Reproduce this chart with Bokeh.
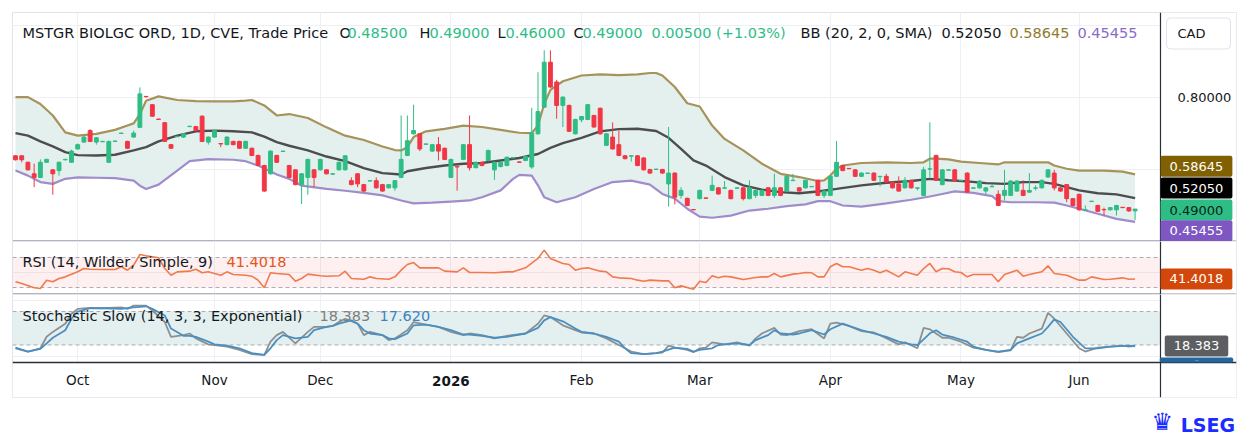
from bokeh.plotting import figure
from bokeh.models import Range1d, FixedTicker, Span, Label, BoxAnnotation, ColumnDataSource, Div, PrintfTickFormatter
from bokeh.layouts import column
from bokeh.embed import file_html
from bokeh.resources import INLINE

# ---------------- data ----------------
opens = [
    0.638, 0.638, 0.620, 0.588, 0.578, 0.620, 0.599, 0.597, 0.627, 0.620,
    0.657, 0.676, 0.708, 0.676, 0.677, 0.620, 0.678, 0.700, 0.678, 0.690,
    0.717, 0.803, 0.780, 0.740, 0.730, 0.669, 0.691, 0.690, 0.719, 0.719,
    0.748, 0.676, 0.690, 0.672, 0.669, 0.678, 0.678, 0.659, 0.659, 0.639,
    0.611, 0.588, 0.639, 0.650, 0.611, 0.599, 0.558, 0.578, 0.599, 0.599,
    0.599, 0.587, 0.599, 0.599, 0.569, 0.588, 0.558, 0.568, 0.569, 0.558,
    0.549, 0.549, 0.578, 0.639, 0.699, 0.699, 0.670, 0.651, 0.669, 0.659,
    0.578, 0.608, 0.628, 0.669, 0.605, 0.620, 0.625, 0.599, 0.608, 0.611,
    0.632, 0.621, 0.625, 0.607, 0.699, 0.773, 0.898, 0.843, 0.778, 0.778,
    0.699, 0.738, 0.739, 0.750, 0.770, 0.667, 0.690, 0.669, 0.638, 0.637,
    0.638, 0.632, 0.600, 0.600, 0.600, 0.560, 0.590, 0.528, 0.520, 0.489,
    0.519, 0.521, 0.542, 0.549, 0.548, 0.542, 0.548, 0.549, 0.519, 0.528,
    0.528, 0.549, 0.528, 0.549, 0.540, 0.569, 0.549, 0.549, 0.552, 0.570,
    0.528, 0.528, 0.581, 0.611, 0.603, 0.599, 0.581, 0.589, 0.590, 0.580,
    0.581, 0.565, 0.560, 0.549, 0.570, 0.548, 0.528, 0.601, 0.639, 0.558,
    0.598, 0.599, 0.569, 0.590, 0.548, 0.549, 0.540, 0.552, 0.531, 0.528,
    0.528, 0.540, 0.542, 0.537, 0.548, 0.549, 0.579, 0.590, 0.549, 0.558,
    0.519, 0.531, 0.487, 0.511, 0.500, 0.489, 0.488, 0.488, 0.495, 0.494,
    0.485,
]
highs = [
    0.640, 0.639, 0.622, 0.616, 0.628, 0.630, 0.601, 0.622, 0.630, 0.655,
    0.672, 0.694, 0.712, 0.690, 0.680, 0.680, 0.680, 0.702, 0.680, 0.708,
    0.828, 0.804, 0.782, 0.741, 0.732, 0.671, 0.693, 0.701, 0.721, 0.721,
    0.750, 0.692, 0.710, 0.673, 0.692, 0.680, 0.680, 0.680, 0.661, 0.641,
    0.613, 0.653, 0.641, 0.652, 0.613, 0.601, 0.590, 0.630, 0.601, 0.630,
    0.601, 0.589, 0.622, 0.640, 0.578, 0.590, 0.560, 0.570, 0.578, 0.560,
    0.560, 0.571, 0.750, 0.750, 0.780, 0.701, 0.672, 0.671, 0.690, 0.661,
    0.630, 0.610, 0.671, 0.750, 0.622, 0.622, 0.655, 0.622, 0.622, 0.636,
    0.634, 0.622, 0.638, 0.771, 0.870, 0.931, 0.931, 0.849, 0.803, 0.780,
    0.741, 0.749, 0.782, 0.752, 0.772, 0.701, 0.731, 0.708, 0.640, 0.640,
    0.640, 0.634, 0.602, 0.602, 0.602, 0.718, 0.592, 0.551, 0.522, 0.490,
    0.544, 0.522, 0.583, 0.551, 0.568, 0.544, 0.550, 0.551, 0.570, 0.544,
    0.544, 0.551, 0.588, 0.551, 0.583, 0.588, 0.551, 0.572, 0.554, 0.572,
    0.542, 0.583, 0.679, 0.613, 0.604, 0.601, 0.592, 0.591, 0.592, 0.582,
    0.588, 0.567, 0.581, 0.579, 0.572, 0.550, 0.607, 0.731, 0.641, 0.601,
    0.600, 0.601, 0.571, 0.592, 0.550, 0.570, 0.551, 0.558, 0.542, 0.599,
    0.570, 0.570, 0.570, 0.590, 0.556, 0.572, 0.601, 0.599, 0.551, 0.560,
    0.521, 0.533, 0.500, 0.513, 0.502, 0.494, 0.496, 0.502, 0.496, 0.496,
    0.490,
]
lows = [
    0.625, 0.620, 0.597, 0.551, 0.576, 0.618, 0.530, 0.583, 0.625, 0.618,
    0.655, 0.674, 0.676, 0.669, 0.676, 0.618, 0.677, 0.699, 0.657, 0.688,
    0.715, 0.800, 0.746, 0.738, 0.676, 0.657, 0.690, 0.688, 0.718, 0.706,
    0.676, 0.669, 0.688, 0.662, 0.667, 0.667, 0.657, 0.657, 0.637, 0.609,
    0.538, 0.586, 0.618, 0.649, 0.576, 0.556, 0.504, 0.530, 0.551, 0.597,
    0.586, 0.586, 0.597, 0.597, 0.556, 0.551, 0.538, 0.567, 0.547, 0.538,
    0.547, 0.541, 0.576, 0.637, 0.697, 0.651, 0.669, 0.649, 0.625, 0.626,
    0.576, 0.541, 0.626, 0.597, 0.603, 0.609, 0.623, 0.571, 0.606, 0.609,
    0.631, 0.619, 0.623, 0.602, 0.697, 0.771, 0.827, 0.741, 0.718, 0.704,
    0.697, 0.731, 0.737, 0.716, 0.697, 0.665, 0.655, 0.637, 0.628, 0.622,
    0.609, 0.597, 0.588, 0.599, 0.588, 0.497, 0.503, 0.519, 0.498, 0.487,
    0.517, 0.519, 0.540, 0.530, 0.547, 0.517, 0.547, 0.514, 0.517, 0.521,
    0.526, 0.526, 0.521, 0.526, 0.538, 0.568, 0.538, 0.547, 0.551, 0.526,
    0.521, 0.526, 0.579, 0.595, 0.601, 0.579, 0.579, 0.588, 0.568, 0.553,
    0.563, 0.547, 0.538, 0.547, 0.547, 0.542, 0.526, 0.579, 0.568, 0.556,
    0.597, 0.566, 0.568, 0.535, 0.547, 0.547, 0.532, 0.551, 0.498, 0.514,
    0.526, 0.538, 0.526, 0.535, 0.542, 0.547, 0.577, 0.542, 0.538, 0.509,
    0.498, 0.486, 0.486, 0.510, 0.482, 0.472, 0.486, 0.472, 0.493, 0.482,
    0.460,
]
closes = [
    0.627, 0.627, 0.599, 0.578, 0.620, 0.628, 0.588, 0.620, 0.628, 0.651,
    0.669, 0.690, 0.678, 0.688, 0.678, 0.678, 0.679, 0.701, 0.659, 0.701,
    0.810, 0.802, 0.748, 0.739, 0.678, 0.659, 0.692, 0.699, 0.720, 0.708,
    0.678, 0.690, 0.708, 0.671, 0.690, 0.669, 0.659, 0.678, 0.639, 0.611,
    0.540, 0.651, 0.620, 0.651, 0.578, 0.558, 0.588, 0.628, 0.578, 0.628,
    0.588, 0.588, 0.620, 0.638, 0.558, 0.560, 0.540, 0.569, 0.549, 0.540,
    0.558, 0.569, 0.628, 0.680, 0.708, 0.657, 0.671, 0.669, 0.651, 0.628,
    0.628, 0.607, 0.669, 0.605, 0.620, 0.611, 0.653, 0.620, 0.620, 0.634,
    0.633, 0.620, 0.636, 0.701, 0.761, 0.898, 0.829, 0.778, 0.801, 0.706,
    0.739, 0.747, 0.780, 0.718, 0.699, 0.699, 0.657, 0.639, 0.630, 0.638,
    0.611, 0.599, 0.590, 0.601, 0.590, 0.590, 0.523, 0.542, 0.500, 0.488,
    0.542, 0.520, 0.556, 0.532, 0.549, 0.519, 0.549, 0.519, 0.549, 0.542,
    0.542, 0.528, 0.549, 0.528, 0.581, 0.570, 0.540, 0.570, 0.553, 0.528,
    0.540, 0.581, 0.620, 0.597, 0.602, 0.581, 0.590, 0.590, 0.570, 0.581,
    0.565, 0.549, 0.540, 0.570, 0.549, 0.549, 0.599, 0.602, 0.570, 0.599,
    0.599, 0.568, 0.570, 0.537, 0.549, 0.568, 0.549, 0.553, 0.500, 0.542,
    0.568, 0.568, 0.528, 0.542, 0.549, 0.570, 0.599, 0.549, 0.540, 0.519,
    0.500, 0.488, 0.488, 0.512, 0.484, 0.488, 0.494, 0.500, 0.494, 0.485,
    0.490,
]

bb_up_idx = [0, 2, 4, 6, 8, 10, 13, 16, 18, 19, 20, 21, 23, 26, 29, 32, 35, 37, 38, 40,
             42, 44, 47, 50, 53, 56, 59, 61, 62, 63, 64, 66, 69, 72, 75, 78, 81, 83, 84, 85,
             86, 88, 91, 94, 97, 100, 102, 103, 104, 106, 108, 110, 112, 114, 117, 120, 123, 126, 129, 130,
             131, 132, 133, 136, 140, 144, 146, 147, 148, 150, 152, 155, 158, 159, 162, 166, 167, 169, 171, 175,
             178, 180]
bb_up = [0.801, 0.801, 0.782, 0.750, 0.703, 0.694, 0.699, 0.710, 0.722, 0.728, 0.754, 0.791, 0.803, 0.793, 0.790, 0.789, 0.789, 0.791, 0.793, 0.778,
         0.750, 0.754, 0.743, 0.717, 0.694, 0.682, 0.664, 0.654, 0.653, 0.662, 0.690, 0.706, 0.713, 0.722, 0.718, 0.710, 0.702, 0.701, 0.722, 0.782,
         0.821, 0.845, 0.861, 0.864, 0.862, 0.864, 0.868, 0.868, 0.861, 0.829, 0.784, 0.775, 0.722, 0.685, 0.653, 0.616, 0.588, 0.579, 0.568, 0.570,
         0.583, 0.602, 0.611, 0.618, 0.620, 0.618, 0.620, 0.630, 0.630, 0.628, 0.622, 0.618, 0.614, 0.620, 0.620, 0.620, 0.611, 0.602, 0.597, 0.597,
         0.594, 0.58645]

bb_mid_idx = [0, 2, 4, 6, 8, 10, 13, 16, 19, 21, 23, 26, 29, 32, 35, 38, 40, 42, 44, 47,
              50, 53, 56, 59, 62, 63, 66, 69, 72, 75, 78, 81, 84, 86, 88, 91, 94, 97, 100, 103,
              105, 107, 109, 111, 114, 117, 120, 123, 126, 129, 132, 136, 140, 144, 147, 150, 153, 156, 159, 162,
              165, 167, 169, 171, 174, 177, 180]
bb_mid = [0.701, 0.694, 0.678, 0.664, 0.648, 0.640, 0.639, 0.641, 0.653, 0.662, 0.678, 0.694, 0.706, 0.708, 0.706, 0.703, 0.691, 0.676, 0.666, 0.653,
          0.636, 0.623, 0.604, 0.590, 0.586, 0.595, 0.604, 0.611, 0.616, 0.618, 0.625, 0.632, 0.643, 0.660, 0.673, 0.688, 0.706, 0.712, 0.713, 0.707,
          0.688, 0.657, 0.625, 0.611, 0.579, 0.556, 0.544, 0.537, 0.534, 0.539, 0.546, 0.556, 0.563, 0.568, 0.574, 0.570, 0.567, 0.562, 0.560, 0.565,
          0.565, 0.560, 0.551, 0.542, 0.534, 0.531, 0.5205]

bb_low_idx = [0, 2, 4, 6, 8, 10, 13, 16, 19, 20, 21, 23, 26, 28, 31, 35, 37, 39, 42, 44,
              46, 50, 53, 56, 59, 62, 64, 67, 70, 73, 75, 78, 80, 81, 83, 84, 85, 87, 90, 93,
              96, 99, 102, 104, 106, 108, 110, 112, 115, 118, 121, 124, 127, 129, 131, 133, 136, 140, 144, 147,
              149, 151, 154, 157, 158, 160, 164, 167, 169, 171, 174, 177, 180]
bb_low = [0.597, 0.583, 0.565, 0.560, 0.574, 0.578, 0.577, 0.576, 0.569, 0.555, 0.546, 0.558, 0.597, 0.623, 0.629, 0.627, 0.623, 0.611, 0.586, 0.574,
          0.555, 0.546, 0.541, 0.535, 0.528, 0.514, 0.506, 0.508, 0.511, 0.514, 0.523, 0.542, 0.574, 0.585, 0.583, 0.556, 0.523, 0.509, 0.523, 0.546,
          0.565, 0.569, 0.558, 0.532, 0.519, 0.491, 0.469, 0.466, 0.472, 0.486, 0.491, 0.498, 0.503, 0.512, 0.512, 0.500, 0.497, 0.506, 0.516, 0.525,
          0.532, 0.539, 0.535, 0.526, 0.512, 0.509, 0.509, 0.508, 0.500, 0.491, 0.477, 0.463, 0.45455]

rsi_points = [
    (0, 37.6), (1, 35.3), (3, 29.6), (4, 28.7), (5, 39.8), (6, 37.6), (7, 42.0), (8, 44.2), (10, 50.9), (11, 55.3),
    (12, 54.4), (14, 54.0), (16, 54.0), (17, 57.6), (18, 53.1), (19, 59.8), (20, 74.0), (21, 72.2), (23, 69.6), (24, 55.3),
    (25, 46.4), (26, 50.9), (28, 51.8), (29, 54.4), (30, 49.6), (31, 50.9), (33, 46.4), (34, 50.9), (35, 47.3), (37, 46.4),
    (38, 45.1), (39, 39.8), (40, 29.6), (41, 49.6), (42, 48.7), (44, 47.3), (45, 38.4), (46, 42.0), (47, 47.8), (49, 45.6),
    (50, 45.1), (52, 45.6), (53, 51.8), (54, 42.0), (56, 41.1), (57, 44.2), (58, 42.0), (60, 41.1), (61, 44.2), (62, 53.1),
    (63, 60.7), (64, 63.3), (65, 56.2), (67, 56.2), (68, 56.2), (69, 51.8), (71, 50.9), (72, 56.2), (73, 50.0), (75, 50.0),
    (77, 49.6), (79, 50.9), (80, 50.9), (82, 56.2), (84, 68.7), (85, 79.8), (86, 68.7), (88, 62.0), (89, 60.7), (90, 53.1),
    (91, 55.3), (92, 56.2), (94, 51.8), (95, 50.9), (96, 44.2), (97, 42.9), (99, 42.0), (100, 39.8), (101, 38.4), (102, 39.8),
    (104, 38.9), (105, 38.9), (106, 29.6), (107, 32.2), (109, 27.8), (110, 38.4), (111, 36.7), (112, 45.6), (113, 42.9), (114, 45.1),
    (115, 44.2), (117, 40.7), (118, 42.0), (119, 43.3), (120, 44.2), (121, 44.2), (122, 48.7), (123, 44.2), (125, 47.8), (126, 48.7),
    (127, 50.0), (128, 49.6), (129, 44.2), (130, 44.2), (131, 57.6), (132, 62.0), (133, 57.6), (134, 57.6), (136, 53.1), (137, 55.3),
    (138, 53.1), (139, 49.6), (140, 53.1), (142, 44.2), (143, 50.9), (145, 46.4), (146, 55.3), (147, 62.0), (148, 50.9), (149, 55.3),
    (150, 55.0), (151, 50.9), (152, 50.0), (153, 44.2), (154, 47.3), (156, 47.3), (157, 47.3), (158, 37.6), (159, 47.3), (161, 53.1),
    (162, 45.1), (163, 47.3), (165, 50.9), (166, 58.9), (167, 48.7), (169, 46.4), (170, 42.9), (171, 39.8), (172, 39.8), (173, 44.2),
    (175, 40.7), (176, 41.1), (178, 42.9), (179, 41.1), (180, 41.4018),
]

stoch_k_points = [
    (0, 14.1), (2, 8.3), (4, 14.1), (5, 34.7), (6, 43.5), (8, 58.2), (9, 75.9), (10, 84.7), (12, 86.5), (14, 85.9),
    (17, 87.6), (18, 84.7), (19, 90.6), (21, 90.6), (22, 81.8), (24, 61.2), (25, 34.7), (27, 37.7), (28, 40.6), (29, 31.8),
    (31, 21.2), (32, 20.0), (34, 17.1), (36, 11.2), (38, 3.5), (40, 2.4), (41, 25.9), (42, 37.7), (43, 43.5), (45, 23.0),
    (47, 43.5), (48, 52.4), (50, 52.4), (51, 54.1), (52, 61.2), (53, 67.1), (55, 58.2), (56, 37.7), (57, 43.5), (59, 37.7),
    (60, 28.8), (61, 31.8), (63, 46.5), (64, 61.2), (66, 56.5), (68, 52.4), (70, 43.5), (72, 37.7), (73, 40.6), (75, 37.7),
    (77, 31.8), (79, 36.5), (82, 40.6), (84, 58.2), (85, 72.9), (86, 70.0), (88, 55.3), (90, 46.5), (91, 42.4), (93, 40.6),
    (95, 31.8), (97, 20.0), (98, 14.1), (99, 8.3), (101, 3.5), (103, 5.3), (104, 6.5), (105, 18.8), (106, 15.3), (108, 11.2),
    (109, 7.1), (110, 14.1), (111, 15.3), (112, 24.7), (114, 21.2), (116, 24.7), (118, 18.8), (119, 31.8), (120, 40.6), (122, 50.6),
    (123, 38.8), (124, 37.7), (126, 44.7), (128, 48.2), (130, 31.8), (131, 58.2), (132, 60.0), (134, 54.1), (136, 44.7), (138, 42.4),
    (139, 37.7), (142, 21.2), (143, 24.7), (145, 14.1), (146, 50.6), (147, 48.2), (149, 33.0), (150, 33.0), (152, 25.9), (154, 15.3),
    (156, 11.2), (158, 7.1), (160, 10.6), (161, 34.7), (162, 33.0), (163, 40.6), (165, 49.4), (166, 77.6), (167, 67.1), (169, 40.6),
    (171, 14.1), (172, 8.3), (174, 15.3), (176, 17.1), (178, 18.8), (179, 17.1), (180, 18.383),
]

stoch_d_points = [
    (0, 15.3), (2, 8.3), (4, 13.0), (5, 23.0), (6, 33.0), (8, 46.5), (9, 67.1), (10, 80.0), (12, 85.9), (14, 85.9),
    (17, 84.7), (19, 87.6), (21, 89.4), (22, 84.7), (24, 72.9), (25, 49.4), (27, 36.5), (28, 36.5), (29, 34.7), (31, 25.9),
    (32, 21.2), (34, 18.8), (36, 14.1), (38, 5.3), (40, 2.4), (41, 14.1), (42, 28.8), (43, 37.7), (45, 31.8), (47, 34.7),
    (48, 46.5), (50, 52.4), (51, 54.1), (52, 58.2), (54, 64.1), (55, 58.2), (56, 46.5), (57, 40.6), (59, 37.7), (60, 31.8),
    (61, 30.6), (63, 40.6), (64, 55.3), (66, 56.5), (68, 52.4), (70, 46.5), (72, 38.8), (73, 38.8), (75, 36.5), (77, 33.0),
    (79, 34.7), (82, 40.6), (84, 50.6), (85, 64.1), (86, 70.0), (88, 62.4), (90, 49.4), (91, 43.5), (93, 40.6), (95, 34.7),
    (97, 25.9), (98, 14.0), (99, 5.3), (101, 3.5), (103, 5.3), (104, 8.3), (106, 15.3), (108, 13.0), (109, 8.3), (110, 11.2),
    (112, 14.1), (113, 20.0), (114, 21.2), (116, 23.0), (118, 20.0), (119, 28.8), (121, 37.7), (122, 46.5), (123, 40.6), (125, 38.8),
    (126, 40.6), (128, 46.5), (130, 38.8), (131, 48.2), (133, 58.2), (134, 54.1), (136, 46.5), (138, 40.6), (140, 34.7), (142, 25.9),
    (144, 21.2), (145, 20.0), (146, 30.0), (147, 41.0), (148, 46.5), (149, 38.8), (151, 33.0), (153, 25.9), (154, 17.1), (156, 11.2),
    (158, 8.3), (160, 11.2), (161, 23.0), (163, 31.8), (165, 40.6), (166, 52.4), (167, 65.9), (168, 61.2), (170, 34.7), (172, 14.1),
    (174, 14.1), (176, 17.1), (179, 18.8), (180, 17.62),
]

month_idx = [10, 32, 49, 70, 91, 110, 131, 152, 171]
month_labels = ["Oct", "Nov", "Dec", "2026", "Feb", "Mar", "Apr", "May", "Jun"]
price_grid = [0.6, 0.8, 1.0]
price_ticks = [0.8]
rsi_levels = [30, 70]
stoch_levels = [20, 80]

# ---------------- styling ----------------
FONT = "DejaVu Sans"
DARK = "#131722"
GREEN = "#2ebd85"
RED = "#f23645"
SEP = "#2a2e39"
GRID = "#eef0f3"
EDGE = "#e0e3eb"
BB_UP_C = "#a6925a"
BB_MID_C = "#4d4d4d"
BB_LOW_C = "#a18ccb"
BB_FILL = "#e4f0ee"
RSI_C = "#f07a4c"
K_C = "#8f8f8f"
D_C = "#4a8fc2"

W = 1238
AXIS_X = 184.08          # position of the price-scale separator (in bar units)
n = len(closes)
assert len(opens) == len(highs) == len(lows) == n
assert len(bb_up_idx) == len(bb_up) and len(bb_mid_idx) == len(bb_mid) and len(bb_low_idx) == len(bb_low)

xr = Range1d(-0.482, 196.3)


def make_fig(height, yr, top, bottom, xloc=None, yloc=None):
    p = figure(width=W, height=height, x_range=xr, y_range=yr, output_backend="svg",
               toolbar_location=None, x_axis_location=xloc, y_axis_location=yloc,
               min_border_left=12, min_border_right=2, min_border_top=top, min_border_bottom=bottom)
    p.outline_line_color = EDGE
    p.background_fill_color = "white"
    p.border_fill_color = "white"
    p.xgrid.ticker = FixedTicker(ticks=month_idx)
    p.xgrid.grid_line_color = GRID
    p.ygrid.grid_line_color = GRID
    return p


def cover_scale(p):
    # keep grid and bands out of the price-scale strip
    p.add_layout(BoxAnnotation(left=AXIS_X, fill_color="white", fill_alpha=1, line_color=None, level="underlay"))
    p.add_layout(Span(location=AXIS_X, dimension="height", line_color=SEP, line_width=1.2))


def lbl(p, text, x, y, color=DARK, size="14.5px", style="normal"):
    p.add_layout(Label(x=x, y=y, x_units="screen", y_units="screen",
                       text=text, text_font=FONT, text_font_size=size, text_color=color,
                       text_font_style=style, text_baseline="middle"))


def badge(p, text, y, bg, fg="white", y_offset=0, size="13px", pad=(9, 6)):
    p.add_layout(Label(x=1184, y=y, x_units="screen", y_units="data", y_offset=y_offset,
                       text=text, text_font=FONT, text_font_size=size, text_color=fg,
                       text_align="center", text_baseline="middle",
                       background_fill_color=bg, border_line_color=None,
                       padding=pad, border_radius=2))


# ---------------- price panel ----------------
p1 = make_fig(241, Range1d(0.4, 1.036), 12, 0, yloc="right")
ya = p1.yaxis[0]
ya.ticker = FixedTicker(ticks=price_ticks)
ya.formatter = PrintfTickFormatter(format="%.5f")
ya.axis_line_color = None
ya.major_tick_line_color = None
ya.minor_tick_line_color = None
ya.major_label_text_font = FONT
ya.major_label_text_font_size = "13px"
ya.major_label_text_color = DARK
ya.major_label_standoff = -65
p1.ygrid.ticker = FixedTicker(ticks=price_grid)
cover_scale(p1)

p1.patch(x=bb_up_idx + bb_low_idx[::-1], y=bb_up + bb_low[::-1], fill_color=BB_FILL, line_color=None)
p1.line(bb_up_idx, bb_up, line_color=BB_UP_C, line_width=2.2)
p1.line(bb_low_idx, bb_low, line_color=BB_LOW_C, line_width=2.2)
p1.line(bb_mid_idx, bb_mid, line_color=BB_MID_C, line_width=2.4)

colors = [GREEN if c >= o else RED for o, c in zip(opens, closes)]
src = ColumnDataSource(dict(
    x=list(range(n)), high=highs, low=lows,
    top=[max(o, c) for o, c in zip(opens, closes)],
    bottom=[min(o, c) for o, c in zip(opens, closes)],
    color=colors))
p1.segment(x0="x", y0="low", x1="x", y1="high", line_color="color", line_width=1, source=src)
p1.vbar(x="x", width=0.62, top="top", bottom="bottom", fill_color="color", line_color="color",
        line_width=1, source=src)

p1.add_layout(Span(location=0.4, dimension="width", line_color=SEP, line_width=1.5))

# legend line
o_, h_, l_, c_ = opens[-1], highs[-1], lows[-1], closes[-1]
chg = c_ - closes[-2]
pct = chg / closes[-2] * 100
TY = 209
lbl(p1, "MSTGR BIOLGC ORD, 1D, CVE, Trade Price", 10, TY)
lbl(p1, "O", 327, TY)
lbl(p1, f"{o_:.5f}", 335, TY, GREEN)
lbl(p1, "H", 407, TY)
lbl(p1, f"{h_:.5f}", 417, TY, GREEN)
lbl(p1, "L", 485, TY)
lbl(p1, f"{l_:.5f}", 493, TY, GREEN)
lbl(p1, "C", 561, TY)
lbl(p1, f"{c_:.5f}", 570, TY, GREEN)
lbl(p1, f"{chg:.5f} (+{pct:.2f}%)", 639, TY, GREEN)
lbl(p1, "BB (20, 2, 0, SMA)", 788, TY)
lbl(p1, f"{bb_mid[-1]:.5f}", 929, TY, DARK)
lbl(p1, f"{bb_up[-1]:.5f}", 997, TY, "#8f7c2c")
lbl(p1, f"{bb_low[-1]:.5f}", 1065, TY, "#8a6cc6")

# currency box
p1.add_layout(Label(x=1154, y=208, x_units="screen", y_units="screen", text="CAD",
                    text_font=FONT, text_font_size="13px", text_color=DARK, text_baseline="middle",
                    background_fill_color="white", border_line_color=EDGE, border_line_width=1,
                    padding=dict(left=11, right=25, top=8, bottom=8), border_radius=4))

# last value badges
badge(p1, f"{bb_up[-1]:.5f}", bb_up[-1], "#806000", y_offset=8)
badge(p1, f"{bb_mid[-1]:.5f}", bb_mid[-1], "#000000", y_offset=10)
badge(p1, f"{c_:.5f}", c_, GREEN, fg="#0c2417", y_offset=-1)
badge(p1, f"{bb_low[-1]:.5f}", bb_low[-1], "#7e57c2", y_offset=-9)

# ---------------- RSI panel ----------------
p2 = make_fig(53, Range1d(20.7, 91.3), 0, 0)
p2.ygrid.ticker = FixedTicker(ticks=[50])
p2.add_layout(BoxAnnotation(bottom=rsi_levels[0], top=rsi_levels[1], fill_color=RED, fill_alpha=0.08,
                            line_color=None, level="underlay"))
for lv in rsi_levels:
    p2.add_layout(Span(location=lv, dimension="width", line_color="#9598a1", line_alpha=0.8,
                       line_dash="4 3", line_width=1, level="underlay"))
cover_scale(p2)
p2.line([q[0] for q in rsi_points], [q[1] for q in rsi_points], line_color=RSI_C, line_width=1.6)
p2.add_layout(Span(location=20.7, dimension="width", line_color=SEP, line_width=1.5))
lbl(p2, "RSI (14, Wilder, Simple, 9)", 10, 33)
lbl(p2, f"{rsi_points[-1][1]:.4f}", 214, 33, "#e4571b")
badge(p2, f"{rsi_points[-1][1]:.4f}", rsi_points[-1][1], "#d2480a")

# ---------------- Stochastic panel (with the time scale below it) ----------------
STOCH_BOTTOM = -11.4
p3 = make_fig(105, Range1d(-74.1, 110.5), 0, 2, xloc="below")
p3.ygrid.ticker = FixedTicker(ticks=[0, 100])
p3.add_layout(BoxAnnotation(bottom=stoch_levels[0], top=stoch_levels[1], fill_color="#e4f0f0", fill_alpha=1,
                            line_color=None, level="underlay"))
for lv in stoch_levels:
    p3.add_layout(Span(location=lv, dimension="width", line_color="#9598a1", line_alpha=0.8,
                       line_dash="4 3", line_width=1, level="underlay"))
p3.add_layout(BoxAnnotation(top=STOCH_BOTTOM, fill_color="white", fill_alpha=1, line_color=None, level="underlay"))
cover_scale(p3)
p3.line([q[0] for q in stoch_k_points], [q[1] for q in stoch_k_points], line_color=K_C, line_width=1.8)
p3.line([q[0] for q in stoch_d_points], [q[1] for q in stoch_d_points], line_color=D_C, line_width=1.8)
p3.add_layout(Span(location=STOCH_BOTTOM, dimension="width", line_color=SEP, line_width=1.5))
lbl(p3, "Stochastic Slow (14, 3, 3, Exponential)", 10, 82)
lbl(p3, f"{stoch_k_points[-1][1]:.3f}", 307, 82, "#7f7f7f")
lbl(p3, f"{stoch_d_points[-1][1]:.3f}", 367, 82, "#3d84bd")
badge(p3, f"{stoch_d_points[-1][1]:.3f}", STOCH_BOTTOM, "#23679e", y_offset=2.5, size="1px", pad=(35, 2))
badge(p3, f"{stoch_k_points[-1][1]:.3f}", stoch_k_points[-1][1], "#5d5e61")

xa = p3.xaxis[0]
xa.ticker = FixedTicker(ticks=month_idx)
xa.major_label_overrides = {i: ("" if t == "2026" else t) for i, t in zip(month_idx, month_labels)}
xa.major_tick_line_color = None
xa.minor_tick_line_color = None
xa.axis_line_color = None
xa.major_label_text_font = FONT
xa.major_label_text_font_size = "13.5px"
xa.major_label_text_color = DARK
xa.major_label_standoff = -32
yr_i = month_labels.index("2026")
p3.add_layout(Label(x=month_idx[yr_i], y=17, x_units="data", y_units="screen", text=month_labels[yr_i],
                    text_font=FONT, text_font_size="13.5px", text_font_style="bold", text_color=DARK,
                    text_align="center", text_baseline="middle"))

logo = Div(width=W, height=34, text=(
    '<div style="position:relative;width:1238px;height:34px;">'
    '<span style="position:absolute;right:70px;top:4px;font:24px/1.2 \'DejaVu Sans\';color:#1a2cff;">&#9819;</span>'
    '<span style="position:absolute;right:8px;top:10px;font:bold 19px/1.2 \'DejaVu Sans\';color:#1a2cff;">LSEG</span>'
    '</div>'))

layout = column(p1, p2, p3, logo, spacing=0)
open("out.html", "w").write(file_html(layout, INLINE))
